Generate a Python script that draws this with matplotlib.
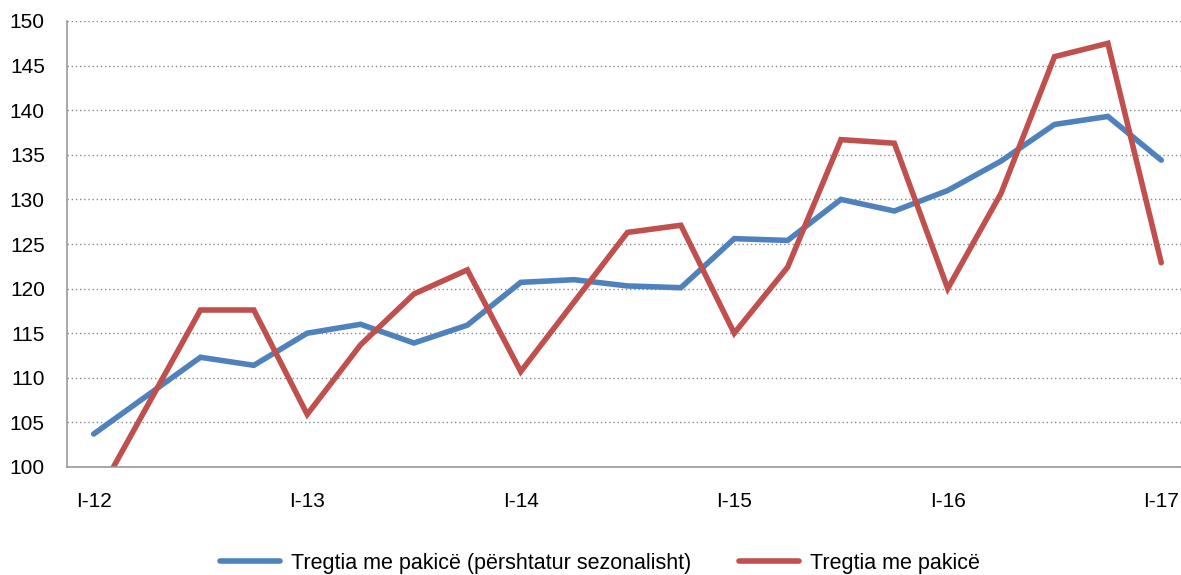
import matplotlib.pyplot as pl
import numpy as np

pl.rcParams['font.family'] = ['Liberation Sans', 'DejaVu Sans']

quarters = ['I-12', 'II-12', 'III-12', 'IV-12',
            'I-13', 'II-13', 'III-13', 'IV-13',
            'I-14', 'II-14', 'III-14', 'IV-14',
            'I-15', 'II-15', 'III-15', 'IV-15',
            'I-16', 'II-16', 'III-16', 'IV-16',
            'I-17']
seasonal_adj = [103.7, 108.0, 112.3, 111.4, 115.0, 116.0, 113.9, 115.9,
                120.7, 121.0, 120.3, 120.1, 125.6, 125.4, 130.0, 128.7,
                131.0, 134.3, 138.4, 139.3, 134.4]
retail = [96.0, 106.8, 117.6, 117.6, 105.9, 113.7, 119.4, 122.1,
          110.7, 118.5, 126.3, 127.1, 115.0, 122.4, 136.7, 136.3,
          120.0, 130.7, 146.0, 147.5, 122.9]
label_adj = 'Tregtia me pakicë (përshtatur sezonalisht)'
label_raw = 'Tregtia me pakicë'

fig = pl.figure(figsize=(11.81, 5.75), dpi=100)
ax = fig.add_axes([67 / 1181, 1 - 467 / 575, 1 - 67 / 1181, (467 - 21) / 575])

x = np.arange(len(quarters))
ax.plot(x, seasonal_adj, color='#4F81BD', lw=4.0, label=label_adj,
        solid_capstyle='round', solid_joinstyle='miter')
ax.plot(x, retail, color='#C0504D', lw=4.0, label=label_raw,
        solid_capstyle='round', solid_joinstyle='miter')

ax.set_xlim(-0.5, 20.37)
ax.set_ylim(100, 150)
ax.set_yticks(np.arange(100, 151, 5))
ax.set_xticks(x[::4])
ax.set_xticklabels([quarters[i] for i in x[::4]])

ax.grid(True, axis='y', linestyle=(0, (1, 2)), color='#888888', lw=1.0)
ax.set_axisbelow(True)
for side in ['top', 'right']:
    ax.spines[side].set_visible(False)
for side in ['left', 'bottom']:
    ax.spines[side].set_color('#999999')
    ax.spines[side].set_linewidth(1.2)

ax.tick_params(axis='y', length=0, pad=16, labelsize=15)
ax.tick_params(axis='x', length=0, pad=18, labelsize=15)

fig.legend(loc='center', bbox_to_anchor=(0.508, 1 - 563 / 575), ncol=2,
           frameon=False, fontsize=15.5, handlelength=2.8, columnspacing=2.2,
           handletextpad=0.5)

fig.savefig('out.png', dpi=100)
